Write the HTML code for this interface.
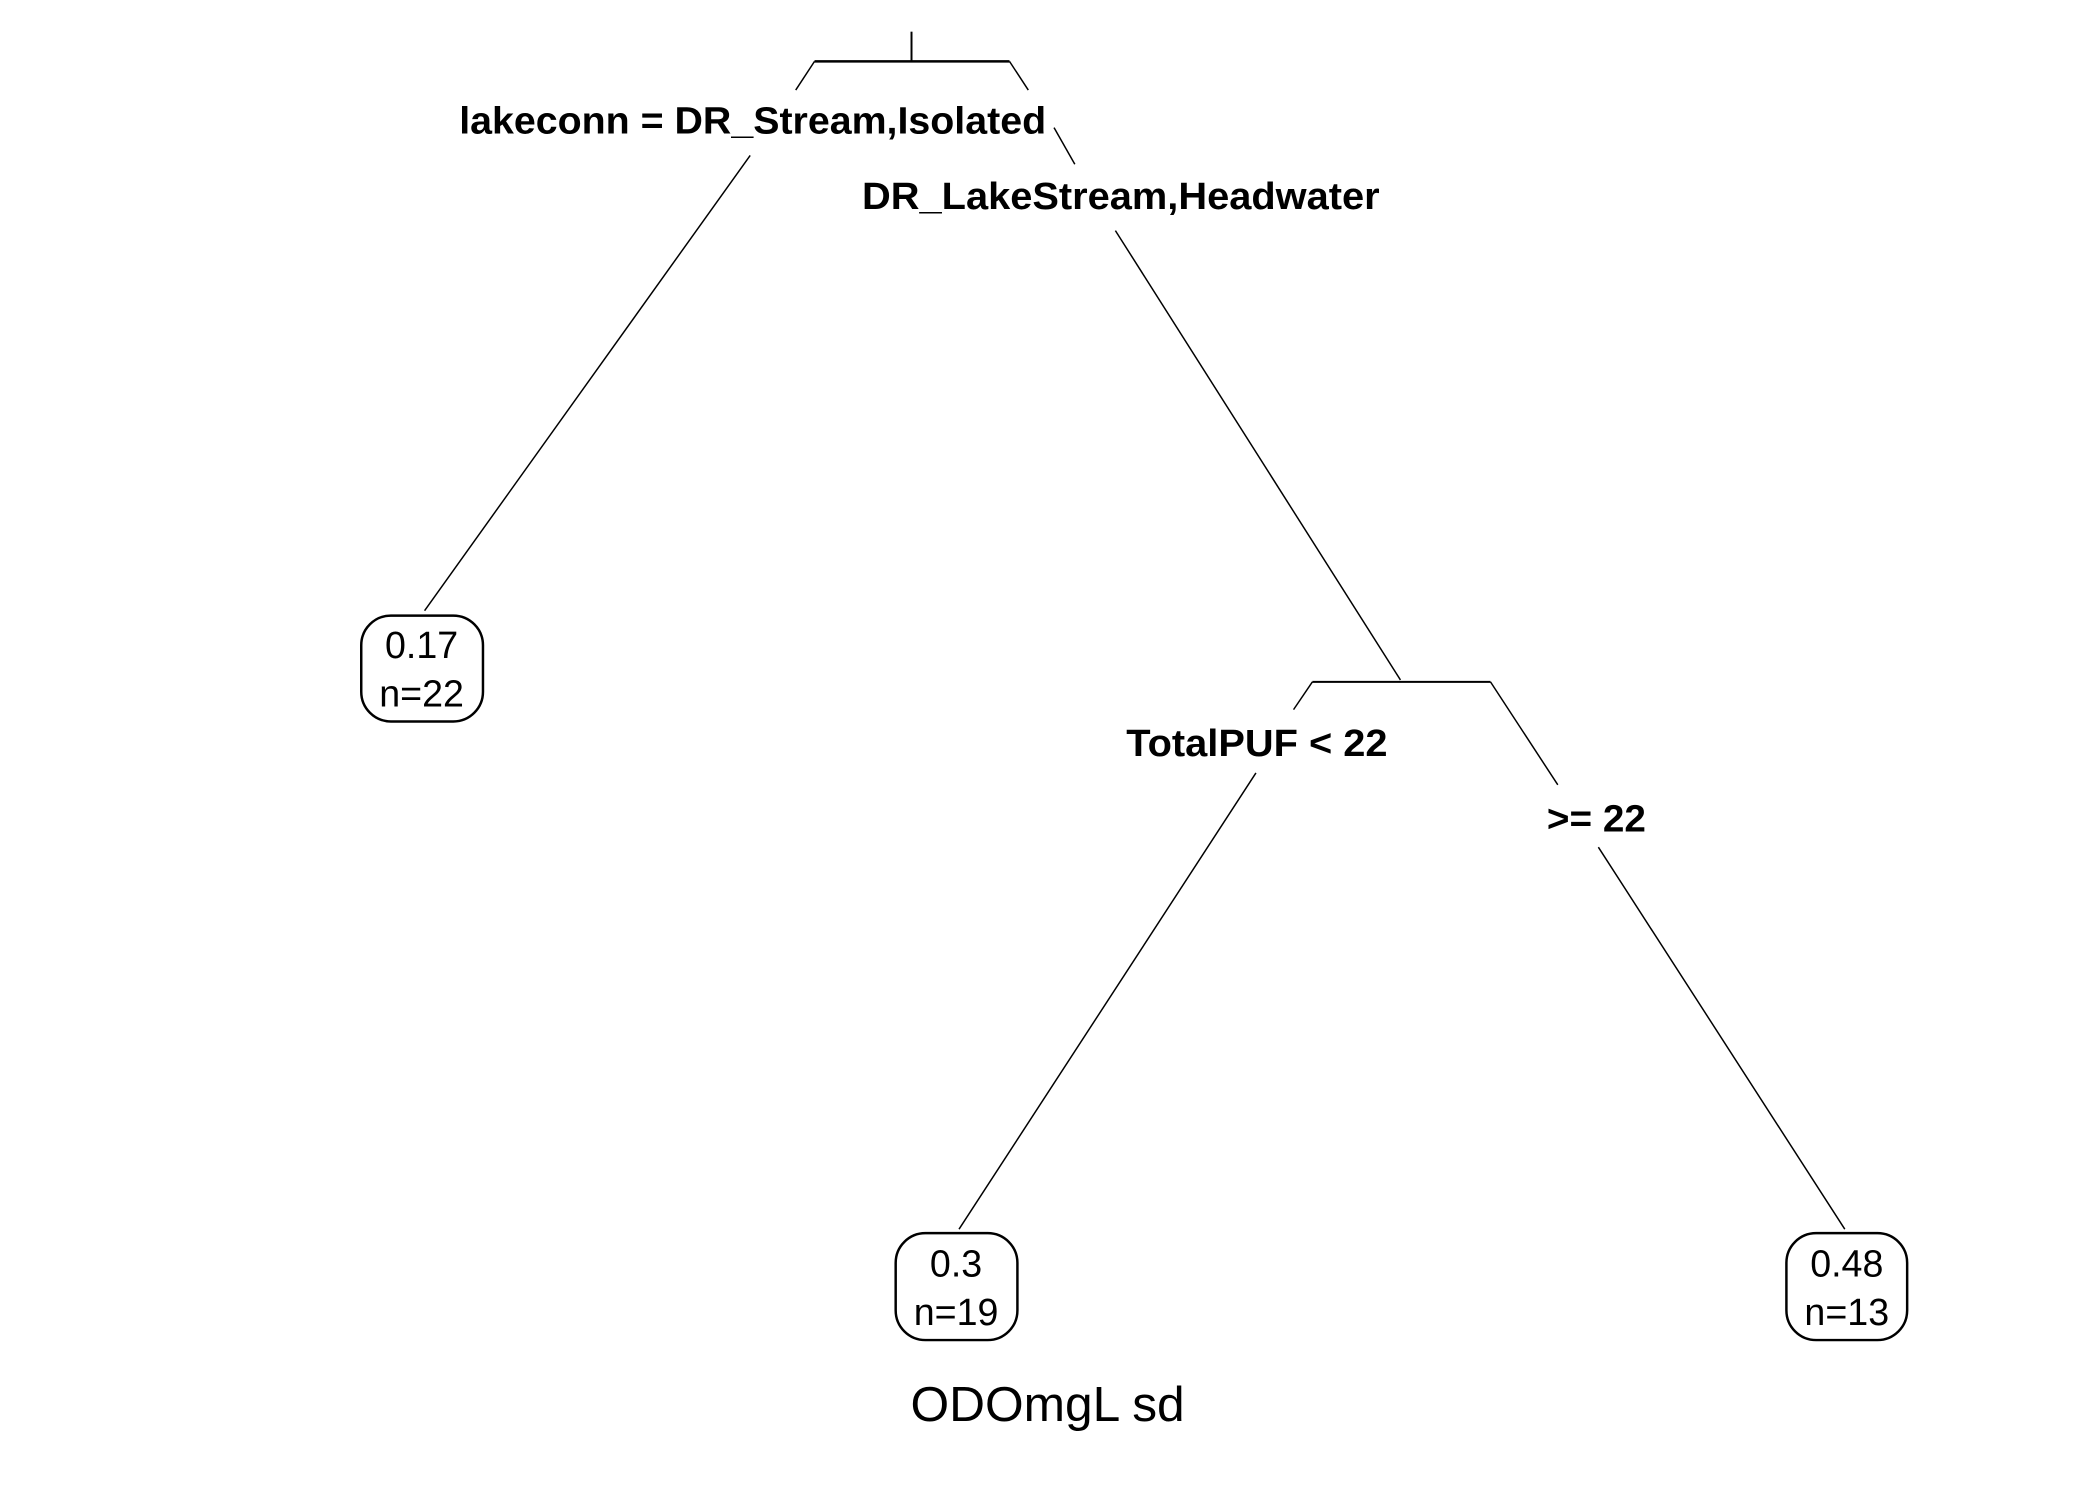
<!DOCTYPE html>
<html><head><meta charset="utf-8"><style>html,body{margin:0;padding:0;background:#fff}svg{display:block}</style></head>
<body>
<svg width="2100" height="1500" viewBox="0 0 2100 1500" xmlns="http://www.w3.org/2000/svg" font-family="Liberation Sans, Arial, sans-serif">
<rect width="2100" height="1500" fill="#fff"/>
<g transform="scale(0.9897)">
<g stroke="#000" fill="none" stroke-width="1.5">
<line x1="921" y1="32" x2="921" y2="62" stroke-width="2"/>
<line x1="823" y1="62" x2="1020" y2="62" stroke-width="2.5"/>
<line x1="823" y1="62" x2="804" y2="91"/>
<line x1="1020" y1="62" x2="1039" y2="91"/>
<line x1="758" y1="157" x2="429" y2="617"/>
<line x1="1065" y1="129" x2="1086" y2="166"/>
<line x1="1127" y1="233" x2="1415" y2="687"/>
<line x1="1326" y1="689" x2="1506" y2="689" stroke-width="2"/>
<line x1="1326" y1="689" x2="1307" y2="717"/>
<line x1="1506" y1="689" x2="1574" y2="793"/>
<line x1="1269" y1="781" x2="969" y2="1242"/>
<line x1="1615" y1="856" x2="1864" y2="1242"/>
<rect x="365" y="622" width="123" height="107" rx="30" ry="30" stroke-width="2.5"/>
<rect x="905" y="1246" width="123" height="108" rx="30" ry="30" stroke-width="2.5"/>
<rect x="1805" y="1246" width="122" height="108" rx="30" ry="30" stroke-width="2.5"/>
</g>
<g font-weight="bold" font-size="38" fill="#000">
<text x="464" y="135" textLength="593" lengthAdjust="spacingAndGlyphs">lakeconn = DR_Stream,Isolated</text>
<text x="871" y="211" textLength="523" lengthAdjust="spacingAndGlyphs">DR_LakeStream,Headwater</text>
<text x="1138" y="764" textLength="264" lengthAdjust="spacingAndGlyphs">TotalPUF &lt; 22</text>
<text x="1563" y="840" textLength="100" lengthAdjust="spacingAndGlyphs">&gt;= 22</text>
</g>
<g font-size="38" fill="#000" text-anchor="middle">
<text x="426" y="665">0.17</text>
<text x="426" y="714">n=22</text>
<text x="966" y="1290">0.3</text>
<text x="966" y="1339">n=19</text>
<text x="1866" y="1290">0.48</text>
<text x="1866" y="1339">n=13</text>
</g>
<text x="920" y="1436" font-size="50" textLength="277" lengthAdjust="spacingAndGlyphs">ODOmgL sd</text>
</g>
</svg>
</body></html>
